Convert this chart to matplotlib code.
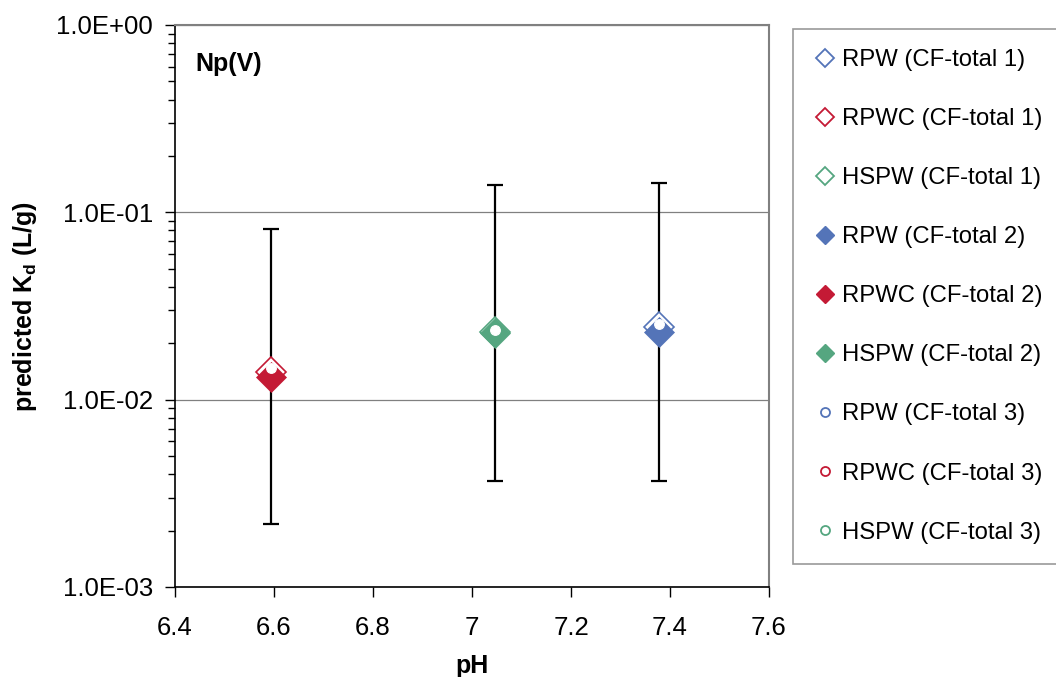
import matplotlib
matplotlib.use("Agg")
import matplotlib.pyplot as plt
from matplotlib.lines import Line2D
from matplotlib.ticker import LogLocator, FixedLocator, NullFormatter

plt.rcParams['font.family'] = ['Liberation Sans', 'DejaVu Sans']
plt.rcParams['mathtext.fontset'] = 'custom'
plt.rcParams['mathtext.rm'] = 'Liberation Sans'
plt.rcParams['mathtext.bf'] = 'Liberation Sans:bold'

# water types, their pH and colours
waters = ["RPW", "RPWC", "HSPW"]
ph = [7.378, 6.593, 7.046]
colors = ["#5474B8", "#C41A35", "#55A680"]

# predicted Kd (L/g) for each conversion factor
kd_cf1 = [0.0244, 0.0140, 0.0229]
kd_cf2 = [0.0230, 0.0132, 0.0227]
kd_cf3 = [0.0253, 0.0147, 0.0235]

# uncertainty range on CF-total 2
kd_low = [0.00367, 0.00217, 0.00367]
kd_high = [0.1428, 0.0814, 0.140]

fig = plt.figure(figsize=(10.56, 6.77), dpi=100)
ax = fig.add_axes([175/1056, 1 - 587/677, (769 - 175)/1056, (587 - 25)/677])

# error bars first, then markers on top
for i in range(3):
    ax.errorbar([ph[i]], [kd_cf2[i]],
                yerr=[[kd_cf2[i] - kd_low[i]], [kd_high[i] - kd_cf2[i]]],
                fmt='none', ecolor='black', elinewidth=1.6, capsize=5.5, capthick=1.6, zorder=3)

for i in range(3):
    ax.plot(ph[i], kd_cf1[i], 'D', ms=15, mfc='white', mec=colors[i], mew=1.2, zorder=4)
    ax.plot(ph[i], kd_cf2[i], 'D', ms=15, mfc=colors[i], mec=colors[i], mew=0.5, zorder=5)
    ax.plot(ph[i], kd_cf3[i], 'o', ms=7, mfc='white', mec='white', mew=0.8, zorder=6)

ax.set_yscale('log')
ax.set_ylim(1e-3, 1)
ax.set_xlim(6.4, 7.6)
ax.xaxis.set_major_locator(FixedLocator([6.4, 6.6, 6.8, 7.0, 7.2, 7.4, 7.6]))
ax.set_xticklabels(["6.4", "6.6", "6.8", "7", "7.2", "7.4", "7.6"])
ax.yaxis.set_major_locator(FixedLocator([1e-3, 1e-2, 1e-1, 1]))
ax.set_yticklabels(["1.0E-03", "1.0E-02", "1.0E-01", "1.0E+00"])
ax.yaxis.set_minor_locator(LogLocator(base=10, subs=range(2, 10)))
ax.yaxis.set_minor_formatter(NullFormatter())

ax.tick_params(axis='both', which='major', direction='out', length=7, width=1, labelsize=18.5)
ax.tick_params(axis='x', which='major', pad=14)
ax.tick_params(axis='y', which='major', pad=9)
ax.tick_params(axis='y', which='minor', direction='out', length=5, width=1)
ax.grid(True, which='major', axis='y', color='#808080', lw=0.9)
ax.set_axisbelow(True)

for side in ['top', 'right']:
    ax.spines[side].set_color('#808080')
    ax.spines[side].set_linewidth(1.5)
for side in ['left', 'bottom']:
    ax.spines[side].set_color('black')
    ax.spines[side].set_linewidth(1.2)

ax.set_xlabel("pH", fontsize=18, fontweight='bold', labelpad=10)
ax.set_ylabel(r"predicted K$_\mathbf{d}$ (L/g)", fontsize=18, fontweight='bold', labelpad=12)
ax.text(0.035, 0.93, "Np(V)", transform=ax.transAxes, fontsize=18, fontweight='bold', va='center')

handles = []
labels = []
for cf, style in [(1, 'open'), (2, 'filled'), (3, 'circle')]:
    for w, c in zip(waters, colors):
        if style == 'open':
            h = Line2D([], [], ls='none', marker='D', ms=9, mfc='white', mec=c, mew=1.3)
        elif style == 'filled':
            h = Line2D([], [], ls='none', marker='D', ms=9, mfc=c, mec=c)
        else:
            h = Line2D([], [], ls='none', marker='o', ms=6.5, mfc='white', mec=c, mew=1.3)
        handles.append(h)
        labels.append(f"{w} (CF-total {cf})")

leg = fig.legend(handles, labels, loc='upper left', bbox_to_anchor=(793/1056, 1 - 29/677),
                 fontsize=17.2, frameon=True, fancybox=False, borderaxespad=0,
                 borderpad=0.85, labelspacing=1.55, handlelength=1.0, handletextpad=0.2)
leg.get_frame().set_edgecolor('#808080')
leg.get_frame().set_linewidth(1.2)

fig.savefig("out.png", dpi=100)
